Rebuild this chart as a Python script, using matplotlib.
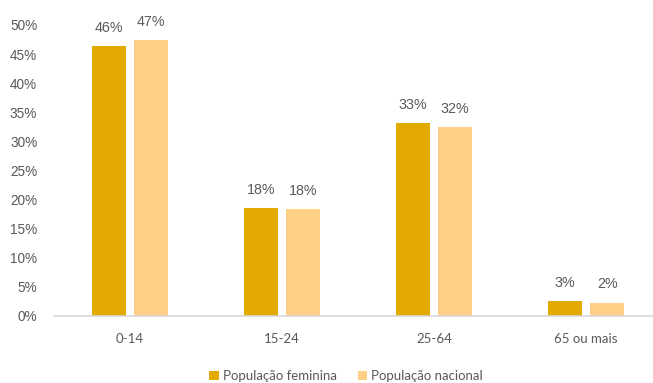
import matplotlib
matplotlib.use("Agg")
import matplotlib.pyplot as plt
import numpy as np
from matplotlib.ticker import FuncFormatter

categories = ["0-14", "15-24", "25-64", "65 ou mais"]
feminina = [46.4, 18.5, 33.1, 2.6]
nacional = [47.4, 18.3, 32.5, 2.3]
series_names = ["População feminina", "População nacional"]
colors = ["#E2AA00", "#FFD086"]
text_color = "#595959"

fig = plt.figure(figsize=(6.53, 3.83), dpi=100)
ax = fig.add_axes([0.0827, 0.175, 0.9173, 0.76])

x = np.arange(len(categories))
w = 0.225
off = 0.139
b1 = ax.bar(x - off, feminina, w, color=colors[0], label=series_names[0])
b2 = ax.bar(x + off, nacional, w, color=colors[1], label=series_names[1])

for bars, vals in ((b1, feminina), (b2, nacional)):
    for r, v in zip(bars, vals):
        ax.annotate(f"{round(v):.0f}%", (r.get_x() + r.get_width() / 2, v),
                    xytext=(0, 8), textcoords="offset points", ha="center", va="bottom",
                    fontsize=10.3, color=text_color, family="Liberation Sans", annotation_clip=False)

ax.set_ylim(0, 50)
ax.set_xlim(-0.5, 3.44)
ax.set_yticks(np.arange(0, 51, 5))
ax.yaxis.set_major_formatter(FuncFormatter(lambda v, p: f"{v:.0f}%"))
for lab in ax.get_yticklabels():
    lab.set_family("Liberation Sans")
ax.tick_params(axis="y", length=0, pad=12, labelsize=9.8, labelcolor=text_color)
ax.set_xticks(x)
ax.set_xticklabels(categories, family="Lato", fontsize=9.5, color=text_color)
ax.tick_params(axis="x", length=0, pad=12)
for s in ("top", "right", "left"):
    ax.spines[s].set_visible(False)
ax.spines["bottom"].set_color("#D9D9D9")
ax.spines["bottom"].set_linewidth(1.2)

leg = fig.legend(handles=[b1, b2], loc="center", bbox_to_anchor=(0.53, 0.018), ncol=2,
                 frameon=False, prop={"family": "Lato", "size": 9.5},
                 handlelength=0.7, handleheight=0.7, handletextpad=0.3, columnspacing=1.6)
for t in leg.get_texts():
    t.set_color(text_color)

fig.savefig("out.png", dpi=100)
